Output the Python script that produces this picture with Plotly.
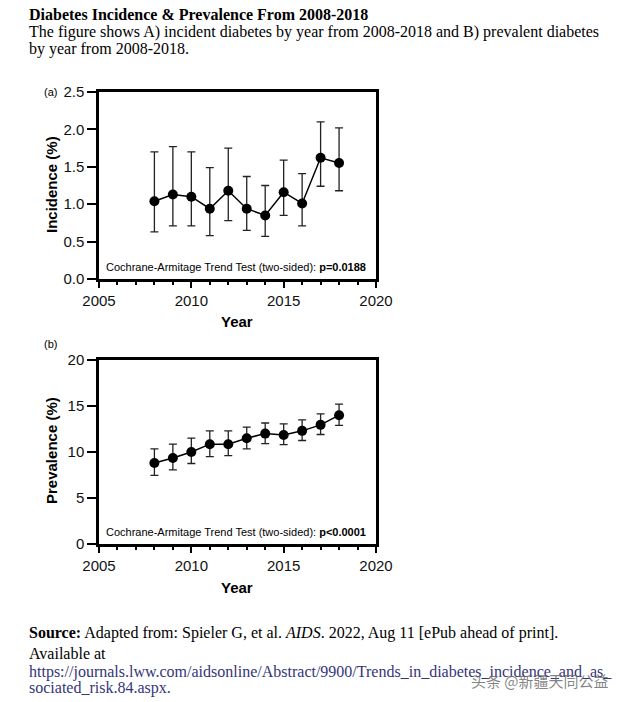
import plotly.graph_objects as go

years = [2008, 2009, 2010, 2011, 2012, 2013, 2014, 2015, 2016, 2017, 2018]

inc_val = [1.04, 1.13, 1.10, 0.94, 1.18, 0.94, 0.85, 1.16, 1.01, 1.62, 1.55]
inc_hi = [1.70, 1.77, 1.70, 1.49, 1.75, 1.37, 1.25, 1.59, 1.41, 2.10, 2.02]
inc_lo = [0.63, 0.71, 0.71, 0.58, 0.78, 0.65, 0.57, 0.85, 0.71, 1.24, 1.18]

prev_val = [8.8, 9.35, 10.0, 10.85, 10.85, 11.5, 12.0, 11.85, 12.3, 12.95, 14.0]
prev_hi = [10.35, 10.85, 11.5, 12.3, 12.3, 12.7, 13.15, 13.05, 13.5, 14.15, 15.2]
prev_lo = [7.45, 8.05, 8.75, 9.5, 9.6, 10.35, 10.9, 10.8, 11.25, 11.9, 12.9]

inc_ticks = [0.0, 0.5, 1.0, 1.5, 2.0, 2.5]
prev_ticks = [0, 5, 10, 15, 20]
x_ticks = [2005, 2010, 2015, 2020]

title_text = "Diabetes Incidence & Prevalence From 2008-2018"
desc_lines = [
    "The figure shows A) incident diabetes by year from 2008-2018 and B) prevalent diabetes",
    "by year from 2008-2018.",
]
note_a = "Cochrane-Armitage Trend Test (two-sided): <b>p=0.0188</b>"
note_b = "Cochrane-Armitage Trend Test (two-sided): <b>p<0.0001</b>"

# page body has an 8px margin; figure sized to fill the rest of the window
OFF = 8
W, H = 627 - OFF, 702 - OFF
SANS = "Liberation Sans, Arial, sans-serif"
SERIF = "Liberation Serif, Times New Roman, serif"


def px(x):
    return (x - OFF) / W


def py(y):
    return 1 - (y - OFF) / H


fig = go.Figure()


def add_series(vals, hi, lo, xa, ya):
    fig.add_trace(go.Scatter(
        x=years, y=vals, mode="lines+markers",
        xaxis=xa, yaxis=ya,
        line=dict(color="black", width=1.5),
        marker=dict(color="black", size=10),
        error_y=dict(type="data", symmetric=False,
                     array=[h - v for h, v in zip(hi, vals)],
                     arrayminus=[v - l for v, l in zip(vals, lo)],
                     color="#222", thickness=1.3, width=4),
        showlegend=False, cliponaxis=False,
    ))


add_series(inc_val, inc_hi, inc_lo, "x", "y")
add_series(prev_val, prev_hi, prev_lo, "x2", "y2")

x_left, x_right = px(99), px(376)

axis_common = dict(
    showline=True, linecolor="black", linewidth=2.5, mirror=True,
    ticks="outside", tickcolor="black", tickwidth=2,
    showgrid=False, zeroline=False, automargin=False,
    tickfont=dict(family=SANS, size=15, color="#111"),
)
minor_x = dict(dtick=1, ticks="outside", ticklen=3.5, tickwidth=1.5, tickcolor="black")

fig.update_layout(
    template="none",
    width=W, height=H,
    margin=dict(l=0, r=0, t=0, b=0, pad=0, autoexpand=False),
    paper_bgcolor="white", plot_bgcolor="white",
    xaxis=dict(domain=[x_left, x_right], range=[2005, 2020], anchor="y",
               tickvals=x_ticks, ticklen=6, minor=minor_x, **axis_common),
    yaxis=dict(domain=[py(279), py(92)], range=[0, 2.5], anchor="x",
               tickvals=inc_ticks, tickformat=".1f", ticklen=9, **axis_common),
    xaxis2=dict(domain=[x_left, x_right], range=[2005, 2020], anchor="y2",
                tickvals=x_ticks, ticklen=6, minor=minor_x, **axis_common),
    yaxis2=dict(domain=[py(544), py(360)], range=[0, 20], anchor="x2",
                tickvals=prev_ticks, ticklen=9, **axis_common),
)

ann = []


def text(x, y, s, size, family, xanchor="left", yanchor="middle", color="black", angle=0):
    ann.append(dict(x=px(x), y=py(y), xref="paper", yref="paper", text=s,
                    showarrow=False, xanchor=xanchor, yanchor=yanchor, textangle=angle,
                    font=dict(family=family, size=size, color=color)))


# header
text(27, 15, "<b>" + title_text + "</b>", 16, SERIF)
text(27, 32, desc_lines[0], 16, SERIF)
text(27, 49, desc_lines[1], 16, SERIF)

# panel labels
text(50, 92, "(a)", 11, SANS, xanchor="center")
text(50, 344, "(b)", 11, SANS, xanchor="center")

# axis titles
text(237, 321, "<b>Year</b>", 15, SANS, xanchor="center")
text(237, 587, "<b>Year</b>", 15, SANS, xanchor="center")
text(52, 185, "<b>Incidence (%)</b>", 15, SANS, xanchor="center", angle=-90)
text(51, 451, "<b>Prevalence (%)</b>", 15, SANS, xanchor="center", angle=-90)

# notes
text(236, 267, note_a, 11, SANS, xanchor="center")
text(236, 532, note_b, 11, SANS, xanchor="center")

# footer
text(27, 633, "<b>Source:</b> Adapted from: Spieler G, et al. <i>AIDS</i>. 2022, Aug 11 [ePub ahead of print].", 16, SERIF)
text(27, 653, "Available at", 16, SERIF)
text(27, 672, "https://journals.lww.com/aidsonline/Abstract/9900/Trends_in_diabetes_incidence_and_as_", 16, SERIF, color="#35357a")
text(27, 688, "sociated_risk.84.aspx.", 16, SERIF, color="#35357a")

# watermark
text(540, 680, "头条 @新疆天同公益", 15, "Noto Sans CJK SC", xanchor="center", color="rgba(110,110,110,0.85)")

fig.update_layout(annotations=ann)

fig.write_html("out.html")
